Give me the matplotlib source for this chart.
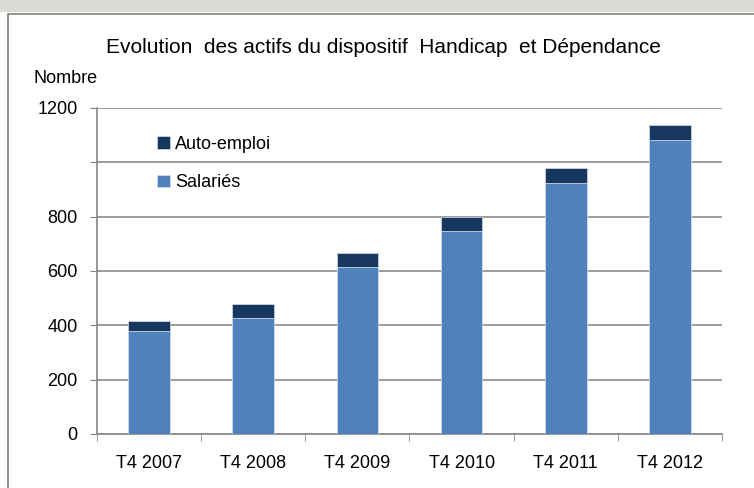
import numpy as np
import matplotlib.pyplot as plt
from matplotlib.patches import Rectangle

plt.rcParams['font.family'] = ['Liberation Sans', 'DejaVu Sans']

annees = ['T4 2007', 'T4 2008', 'T4 2009', 'T4 2010', 'T4 2011', 'T4 2012']
salaries = [380, 428, 615, 747, 925, 1082]
auto_emploi = [35, 51, 50, 52, 55, 55]

yticks = [0, 200, 400, 600, 800, 1000, 1200]
ytick_labels = ['0', '200', '400', '600', '800', '', '1200']

fig = plt.figure(figsize=(7.54, 4.88), dpi=100)

# bandeau gris en haut + cadre du graphique
fig.patches.append(Rectangle((0, 0.975), 1, 0.025, transform=fig.transFigure,
                             facecolor='#dcdad4', edgecolor='none', zorder=-5))
fig.patches.append(Rectangle((0.011, -0.01), 1.0, 0.982, transform=fig.transFigure,
                             facecolor='white', edgecolor='#7f7f7f', lw=1.2, zorder=-5))

ax = fig.add_axes([0.1286, 0.1107, 0.8290, 0.6680], zorder=2)
ax.patch.set_alpha(0)
x = np.arange(len(annees))

ax.bar(x, salaries, width=0.4, color='#4f81bd', edgecolor='#d6e0ef', lw=0.5,
       label='Salariés', zorder=3)
ax.bar(x, auto_emploi, width=0.4, bottom=salaries, color='#17375e',
       edgecolor='#d6e0ef', lw=0.5, label='Auto-emploi', zorder=3)

ax.set_xlim(-0.5, len(annees) - 0.5)
ax.set_ylim(0, 1200)
ax.set_yticks(yticks)
ax.set_yticklabels(ytick_labels)
ax.set_xticks(x)
ax.set_xticklabels(annees)
ax.set_xticks(np.arange(-0.5, len(annees)), minor=True)

ax.tick_params(axis='x', which='major', length=0, pad=15, labelsize=13)
ax.tick_params(axis='x', which='minor', length=5, color='#868686')
ax.tick_params(axis='y', length=5, color='#868686', pad=9, labelsize=13)

ax.yaxis.grid(True, color='#8c8c8c', lw=1.2, zorder=0)
for s in ['top', 'right']:
    ax.spines[s].set_visible(False)
for s in ['left', 'bottom']:
    ax.spines[s].set_color('#868686')
    ax.spines[s].set_linewidth(1.2)

h, l = ax.get_legend_handles_labels()
ax.legend(h[::-1], l[::-1], loc='upper left', bbox_to_anchor=(0.07, 0.965),
          frameon=False, fontsize=13, handlelength=0.7, handleheight=0.7,
          handletextpad=0.3, labelspacing=1.2)

fig.text(0.508, 0.902, 'Evolution  des actifs du dispositif  Handicap  et Dépendance',
         ha='center', va='center', fontsize=15)
fig.text(0.044, 0.840, 'Nombre', ha='left', va='center', fontsize=13)

fig.savefig('out.png', dpi=100)
